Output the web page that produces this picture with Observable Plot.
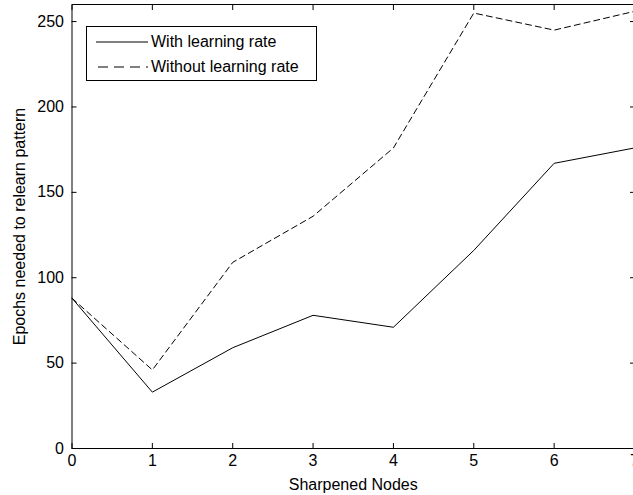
<!DOCTYPE html>
<html>
<head>
<meta charset="utf-8">
<script src="https://cdn.jsdelivr.net/npm/d3@7"></script>
<script src="https://cdn.jsdelivr.net/npm/@observablehq/plot@0.6"></script>
<style>
  html, body { margin: 0; padding: 0; background: #fff; overflow: hidden; width: 633px; height: 495px; }
  #wrap { position: relative; width: 640px; height: 495px; }
  #legend { position: absolute; left: 86px; top: 26px; width: 231px; height: 55px; border: 1px solid #000; background: #fff; box-sizing: border-box; font-family: "Liberation Sans", Arial, sans-serif; font-size: 16px; color: #000; }
  .row { position: absolute; left: 0; height: 20px; display: flex; align-items: center; }
  .row svg { margin-left: 9px; margin-right: 3px; }
</style>
</head>
<body>
<div id="wrap">
  <div id="chart"></div>
  <div id="legend">
    <div class="row" style="top:5px"><svg width="52" height="4"><line x1="0" y1="2" x2="52" y2="2" stroke="#000" stroke-width="1"/></svg><span>With learning rate</span></div>
    <div class="row" style="top:30px"><svg width="52" height="4"><line x1="2" y1="2" x2="52" y2="2" stroke="#000" stroke-width="1" stroke-dasharray="10,6"/></svg><span>Without learning rate</span></div>
  </div>
</div>
<script>
const nodes = [0, 1, 2, 3, 4, 5, 6, 7];
const withRate = [88, 33, 59, 78, 71, 116, 167, 176];
const withoutRate = [88, 46, 109, 136, 176, 255, 245, 256];
const xTicks = [0, 1, 2, 3, 4, 5, 6, 7];
const yTicks = [0, 50, 100, 150, 200, 250];

const data = [
  ...nodes.map((n, i) => ({x: n, y: withRate[i], s: "With learning rate"})),
  ...nodes.map((n, i) => ({x: n, y: withoutRate[i], s: "Without learning rate"}))
];

const chart = Plot.plot({
  width: 640,
  height: 495,
  marginLeft: 71.5,
  marginRight: 6,
  marginTop: 4,
  marginBottom: 47,
  style: {fontFamily: "Liberation Sans, Arial, sans-serif", fontSize: "16px", color: "#000", background: "#fff"},
  x: {domain: [0, 7]},
  y: {domain: [0, 260]},
  marks: [
    Plot.line(data.filter(d => d.s === "With learning rate"), {x: "x", y: "y", stroke: "#000", strokeWidth: 1}),
    Plot.line(data.filter(d => d.s === "Without learning rate"), {x: "x", y: "y", stroke: "#000", strokeWidth: 1, strokeDasharray: "6,4"}),
    Plot.axisX({anchor: "bottom", ticks: xTicks, tickSize: -5, text: null, label: null, stroke: "#000"}),
    Plot.axisX({anchor: "top", ticks: xTicks, tickSize: -5, text: null, label: null, stroke: "#000"}),
    Plot.axisY({anchor: "left", ticks: yTicks, tickSize: -5, text: null, label: null, stroke: "#000"}),
    Plot.axisY({anchor: "right", ticks: yTicks, tickSize: -5, text: null, label: null, stroke: "#000"}),
    Plot.axisX({anchor: "bottom", ticks: xTicks, tickSize: 0, tickPadding: 6, tickFormat: d => String(d), label: "Sharpened Nodes", labelAnchor: "center", labelArrow: "none", labelOffset: 41}),
    Plot.axisY({anchor: "left", ticks: yTicks, tickSize: 0, tickPadding: 8, tickFormat: d => String(d), label: "Epochs needed to relearn pattern", labelAnchor: "center", labelArrow: "none", labelOffset: 58}),
    Plot.frame({stroke: "#000", strokeWidth: 1})
  ]
});
document.getElementById("chart").appendChild(chart);
</script>
</body>
</html>
